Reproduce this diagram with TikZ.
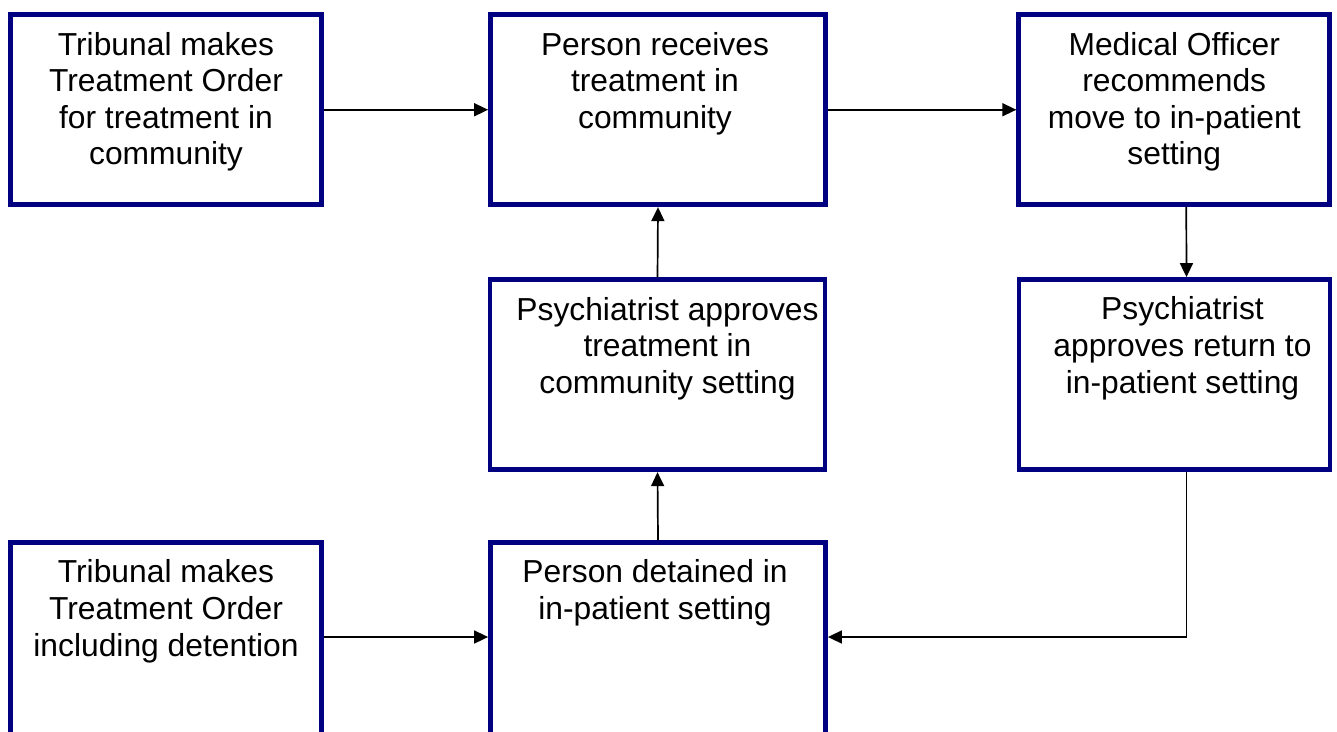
\documentclass[tikz,border=0pt]{standalone}
\usepackage{fontspec}
\setmainfont{Liberation Sans}
\usetikzlibrary{arrows.meta,positioning}
\definecolor{boxblue}{HTML}{000080}

\begin{document}
\begin{tikzpicture}[x=1pt,y=-1pt,
  box/.style={draw=boxblue,line width=4.8pt,fill=white,inner sep=0pt,minimum height=190pt},
  narrowbox/.style={box,minimum width=311pt},
  widebox/.style={box,minimum width=335pt},
  txt/.style={align=center,inner sep=0pt,font=\fontsize{31.8pt}{36.6pt}\selectfont},
  arr/.style={-{Triangle[length=14pt,width=13pt]},line width=1.7pt}]
\clip (0,0) rectangle (1337,731);

% top row
\node[narrowbox] (tribcomm) at (166,109.75) {};
\node[widebox] (recvcomm) at (658,109.75) {};
\node[narrowbox] (medoff) at (1174.25,109.75) {};
% middle row
\node[widebox] (psycomm) at (657.5,374.75) {};
\node[narrowbox] (psyret) at (1174.5,374.5) {};
% bottom row (runs off the page)
\node[narrowbox,minimum height=300pt] (tribdet) at (166,692.5) {};
\node[widebox,minimum height=300pt] (detained) at (658,692.5) {};

% texts
\node[txt,below=19.5pt of tribcomm.north] (tribcommtxt) {Tribunal makes\\Treatment Order\\for treatment in\\community};
\node[txt,below=19.5pt of recvcomm.north,xshift=-3pt] (recvcommtxt) {Person receives\\treatment in\\community};
\node[txt,below=19.5pt of medoff.north] (medofftxt) {Medical Officer\\recommends\\move to in-patient\\setting};
\node[txt,below=19.5pt of psycomm.north,xshift=10pt] (psycommtxt) {Psychiatrist approves\\treatment in\\community setting};
\node[txt,below=19.5pt of psyret.north,xshift=8pt] (psyrettxt) {Psychiatrist\\approves return to\\in-patient setting};
\node[txt,below=19.5pt of tribdet.north] (tribdettxt) {Tribunal makes\\Treatment Order\\including detention};
\node[txt,below=19.5pt of detained.north,xshift=-3pt] (detainedtxt) {Person detained in\\in-patient setting};

% connectors
\coordinate (lowrow) at (0,637);
\draw[arr] (tribcomm.east) -- (recvcomm.west);
\draw[arr] (recvcomm.east) -- (medoff.west);
\draw[arr] ([xshift=12pt]medoff.south) -- ([xshift=12pt]psyret.north);
\draw[arr] (psycomm.north) -- (recvcomm.south);
\draw[arr] (detained.north) -- (psycomm.south);
\draw[arr] (tribdet.east |- lowrow) -- (detained.west |- lowrow);
\draw[arr] ([xshift=12pt]psyret.south) |- (detained.east |- lowrow);
\end{tikzpicture}
\end{document}
